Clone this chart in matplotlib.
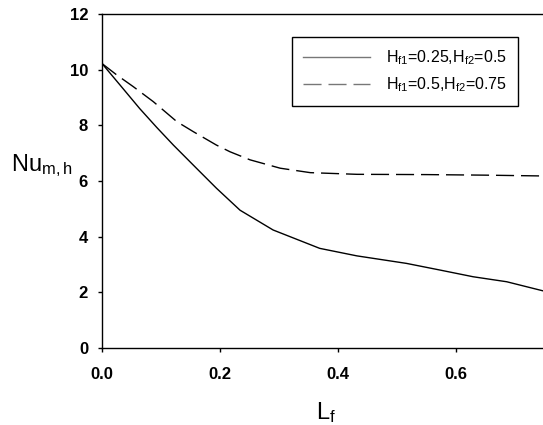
import matplotlib
matplotlib.use('Agg')
import matplotlib.pyplot as plt

plt.rcParams['font.family'] = ['Liberation Sans', 'DejaVu Sans']
plt.rcParams['mathtext.fontset'] = 'custom'
plt.rcParams['mathtext.rm'] = 'Liberation Sans'
plt.rcParams['mathtext.it'] = 'Liberation Sans'

# Nu_m,h against L_f
lf_a = [0.0, 0.0305, 0.064, 0.093, 0.121, 0.160, 0.194, 0.234, 0.29, 0.369, 0.432,
        0.516, 0.573, 0.629, 0.686, 0.75]
nu_a = [10.22, 9.45, 8.6, 7.92, 7.29, 6.46, 5.74, 4.95, 4.24, 3.58, 3.31,
        3.04, 2.80, 2.56, 2.38, 2.04]

lf_b = [0.0, 0.025, 0.053, 0.087, 0.127, 0.155, 0.194, 0.217, 0.251, 0.302, 0.353,
        0.432, 0.55, 0.65, 0.75]
nu_b = [10.22, 9.81, 9.39, 8.85, 8.13, 7.77, 7.29, 7.05, 6.76, 6.46, 6.30,
        6.24, 6.23, 6.21, 6.18]

label_a = r'H$_{\mathrm{f1}}$=0.25,H$_{\mathrm{f2}}$=0.5'
label_b = r'H$_{\mathrm{f1}}$=0.5,H$_{\mathrm{f2}}$=0.75'

xticks = [0.0, 0.2, 0.4, 0.6]
yticks = [0, 2, 4, 6, 8, 10, 12]

fig = plt.figure(figsize=(5.43, 4.25), dpi=100)
ax = fig.add_axes([102 / 543, 77 / 425, 442.5 / 543, 334 / 425])

ax.plot(lf_a, nu_a, color='black', lw=1.0, label=label_a)
ax.plot(lf_b, nu_b, color='black', lw=1.0, dashes=(13, 5), label=label_b)

ax.set_xlim(0, 0.75)
ax.set_ylim(0, 12)
ax.set_xticks(xticks)
ax.set_yticks(yticks)
ax.set_xticklabels(['%.1f' % v for v in xticks], fontsize=12, fontweight='bold')
ax.set_yticklabels([str(v) for v in yticks], fontsize=12, fontweight='bold')
ax.tick_params(direction='out', length=3, width=1)
ax.tick_params(axis='x', pad=11)
ax.tick_params(axis='y', pad=7)

for s in ax.spines.values():
    s.set_linewidth(1.0)

ax.set_xlabel(r'L$_{\mathrm{f}}$', fontsize=17)
ax.set_ylabel(r'Nu$_{\mathrm{m,h}}$', fontsize=17, rotation=0, va='center', ha='center')
ax.yaxis.set_label_coords(-0.135, 0.545)
ax.xaxis.set_label_coords(0.506, -0.155)

leg = ax.legend(loc='upper left', bbox_to_anchor=(292 / 543, 1 - 37 / 425),
                bbox_transform=fig.transFigure, fontsize=11.5, frameon=True,
                fancybox=False, edgecolor='black', framealpha=1,
                handlelength=4.2, handletextpad=1.0, borderpad=0.7,
                labelspacing=0.55, borderaxespad=0)
leg.get_frame().set_linewidth(1.0)
for line in leg.get_lines():
    line.set_color('#777777')

fig.savefig('out.png', dpi=100)
